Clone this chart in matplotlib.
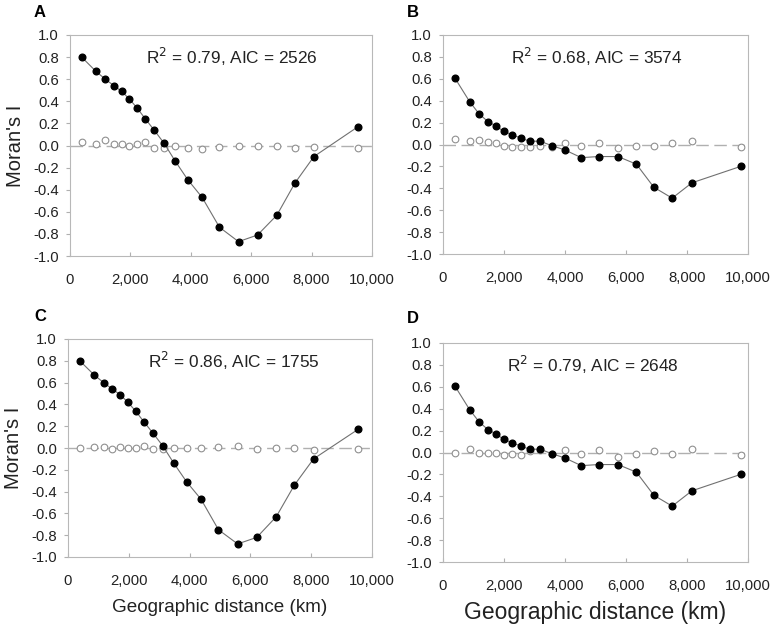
import matplotlib
matplotlib.use("Agg")
import matplotlib.pyplot as plt
from matplotlib.ticker import FuncFormatter

plt.rcParams["font.family"] = ["Liberation Sans", "DejaVu Sans"]

# distance classes (km)
dist_ac = [387, 862, 1171, 1459, 1713, 1967, 2221, 2497, 2785, 3116,
           3481, 3901, 4376, 4950, 5580, 6210, 6851, 7448, 8077, 9536]
dist_bd = [383, 876, 1183, 1468, 1731, 1993, 2256, 2541, 2837, 3187,
           3560, 3998, 4534, 5104, 5739, 6342, 6911, 7514, 8160, 9759]

# observed Moran's I (filled) and residual Moran's I (open)
obs_a = [0.80, 0.67, 0.60, 0.54, 0.49, 0.42, 0.34, 0.24, 0.14, 0.02,
         -0.14, -0.31, -0.47, -0.74, -0.87, -0.81, -0.63, -0.34, -0.10, 0.17]
res_a = [0.03, 0.01, 0.05, 0.01, 0.01, 0.00, 0.01, 0.03, -0.02, -0.02,
         0.00, -0.02, -0.03, -0.01, 0.00, 0.00, 0.00, -0.02, -0.01, -0.02]

obs_b = [0.61, 0.39, 0.28, 0.21, 0.17, 0.12, 0.09, 0.06, 0.03, 0.03,
         -0.01, -0.05, -0.12, -0.11, -0.11, -0.18, -0.39, -0.49, -0.35, -0.20]
res_b = [0.05, 0.03, 0.04, 0.02, 0.01, -0.01, -0.02, -0.02, -0.02, -0.01,
         -0.02, 0.01, -0.01, 0.01, -0.03, -0.01, -0.01, 0.01, 0.03, -0.02]

obs_c = [0.80, 0.67, 0.60, 0.54, 0.49, 0.42, 0.34, 0.24, 0.14, 0.02,
         -0.14, -0.31, -0.47, -0.75, -0.88, -0.82, -0.63, -0.34, -0.10, 0.17]
res_c = [0.00, 0.01, 0.01, -0.01, 0.01, 0.00, 0.00, 0.02, -0.01, -0.01,
         0.00, 0.00, 0.00, 0.01, 0.02, -0.01, 0.00, 0.00, -0.02, -0.01]

obs_d = [0.61, 0.39, 0.28, 0.21, 0.17, 0.12, 0.09, 0.06, 0.03, 0.03,
         -0.01, -0.05, -0.12, -0.11, -0.11, -0.18, -0.39, -0.49, -0.35, -0.20]
res_d = [0.00, 0.03, 0.00, 0.00, 0.00, -0.02, -0.01, -0.02, 0.01, 0.02,
         -0.01, 0.02, -0.01, 0.02, -0.04, -0.01, 0.01, -0.01, 0.03, -0.02]

panel_letters = ["A", "B", "C", "D"]
fit_texts = ["R$^2$ = 0.79, AIC = 2526", "R$^2$ = 0.68, AIC = 3574",
             "R$^2$ = 0.86, AIC = 1755", "R$^2$ = 0.79, AIC = 2648"]
text_x = [5350, 5050, 5450, 4900]

W, H = 771, 628
fig = plt.figure(figsize=(W / 100, H / 100), dpi=100)

# axes boxes in pixels: left, right, top, bottom
boxes = [(70, 372, 35, 256), (443, 748, 35, 254),
         (68, 372, 339, 557), (443, 748, 343, 562)]
letter_pos = [(34, 5), (407, 5), (34, 309), (407, 311)]

panels = [(dist_ac, obs_a, res_a), (dist_bd, obs_b, res_b),
          (dist_ac, obs_c, res_c), (dist_bd, obs_d, res_d)]

for i, ((x, obs, res), (l, r, t, b)) in enumerate(zip(panels, boxes)):
    ax = fig.add_axes([l / W, 1 - b / H, (r - l) / W, (b - t) / H])
    ax.axhline(0, color="#b0b0b0", lw=1.0, dashes=(9, 4), zorder=1)
    ax.plot(x, res, "o", ms=4.8, mfc="white", mec="#909090", mew=0.8, zorder=2)
    ax.plot(x, obs, "-", color="#707070", lw=0.8, zorder=3)
    ax.plot(x, obs, "o", ms=4.8, mfc="black", mec="black", zorder=4)

    ax.set_xlim(0, 10000)
    ax.set_ylim(-1.0, 1.0)
    ax.set_xticks(range(0, 10001, 2000))
    ax.set_yticks([v / 10 for v in range(-10, 11, 2)])
    ax.xaxis.set_major_formatter(FuncFormatter(lambda v, p: f"{int(v):,}"))
    ax.yaxis.set_major_formatter(FuncFormatter(lambda v, p: f"{v:.1f}"))
    for s in ax.spines.values():
        s.set_color("#b8b8b8")
        s.set_linewidth(0.8)
    ax.tick_params(axis="both", colors="#b0b0b0", labelcolor="#222222",
                   labelsize=10.7, length=3, width=0.8)
    ax.tick_params(axis="x", direction="in", pad=12)
    ax.tick_params(axis="y", pad=5)

    ax.text(text_x[i], 0.8, fit_texts[i], ha="center", va="center",
            fontsize=12.4, color="#222222")
    fig.text(letter_pos[i][0] / W, 1 - letter_pos[i][1] / H, panel_letters[i],
             fontsize=12, fontweight="bold", va="top", ha="left")

    if i % 2 == 0:
        ax.set_ylabel("Moran's I", fontsize=14.5, color="#222222", labelpad=6)

fig.axes[2].set_xlabel("Geographic distance (km)", fontsize=13.6,
                       color="#222222", labelpad=8)
fig.axes[3].set_xlabel("Geographic distance (km)", fontsize=16.5,
                       color="#222222", labelpad=6)

fig.savefig("out.png", dpi=100)
